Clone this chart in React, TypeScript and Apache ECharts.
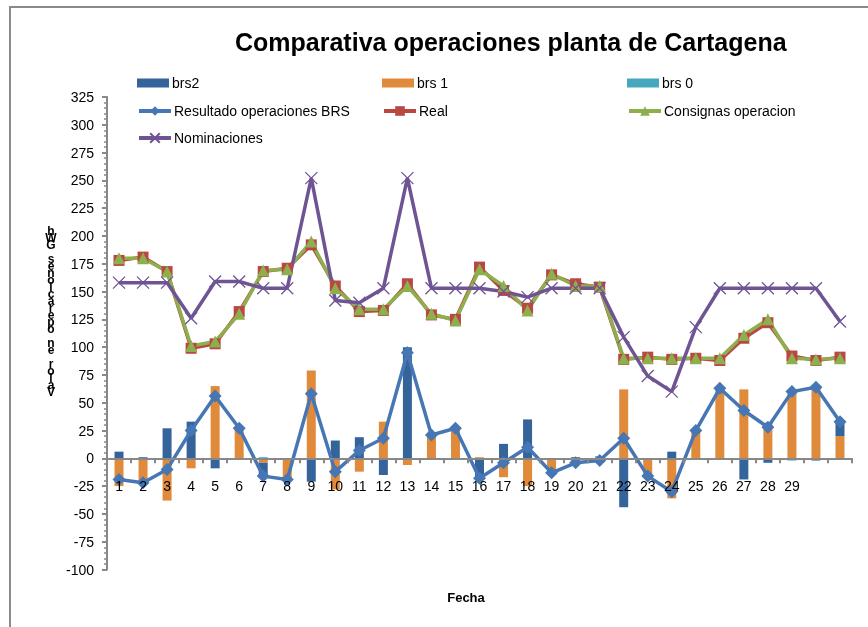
import React, { useEffect, useRef } from 'react';
import * as echarts from 'echarts';

const categories = ['1', '2', '3', '4', '5', '6', '7', '8', '9', '10', '11', '12', '13', '14', '15', '16', '17', '18', '19', '20', '21', '22', '23', '24', '25', '26', '27', '28', '29', '', ''];

const brs2 = [6, 1, 27, 33, -9, 0, -11, 0, -21, 16, 19, -15, 100, 0, -1, -19, 13, 35, 0, 1, 0, -44, 0, 6, 0, 0, -19, -4, 0, -2, 13];
const brs1 = [-25, -23, -38, -9, 65, 28, -4, -19, 79, -28, -12, 33, -6, 21, 28, 1, -17, -25, -13, -5, -4, 62, -17, -36, 25, 63, 62, 32, 61, 66, 20];
const brs0 = [0, 0, 0, 0, 0, -1, 1, -1, 0, 0, 0, 0, 0, 0, 0, 0, 0, 0, 0, 0, 2, 0, 0, 0, -1, 0, 0, 0, -2, 0, -1];

const resultado = [-19, -22, -10, 25, 56, 27, -16, -19, 58, -12, 7, 18, 95, 21, 27, -18, -4, 10, -13, -4, -2, 18, -16, -30, 25, 63, 43, 28, 60, 64, 33];
const real = [178, 181, 168, 99, 103, 132, 168, 171, 192, 155, 132, 133, 157, 129, 125, 172, 151, 135, 165, 157, 154, 89, 91, 89, 90, 88, 108, 122, 92, 88, 91];
const consignas = [180, 180, 168, 101, 105, 130, 169, 170, 195, 153, 134, 134, 155, 130, 124, 170, 155, 133, 166, 155, 155, 90, 90, 90, 90, 90, 111, 125, 90, 89, 90];
const nominaciones = [158, 158, 158, 126, 159, 159, 153, 153, 252, 142, 140, 153, 252, 153, 153, 153, 150, 145, 153, 153, 153, 109, 74, 60, 118, 153, 153, 153, 153, 153, 123];

const yTicks = { min: -100, max: 325, interval: 25 };

const FONT = 'Liberation Sans';
const C_BRS2 = '#35649A';
const C_BRS1 = '#E08A3C';
const C_BRS0 = '#47A7BF';
const C_RES = '#4677B4';
const C_REAL = '#BA4743';
const C_CONS = '#8DAF4C';
const C_NOM = '#6F5493';
const AXIS = '#888888';

export default function App() {
  const ref = useRef<HTMLDivElement>(null);
  useEffect(() => {
    if (!ref.current) return;
    const chart = echarts.init(ref.current, undefined, { renderer: 'svg' });
    const yName = 'Valor en operaciones GWh'.split('').reverse().join('\n');
    const legendDef = (name: string, left: number, top: number, isBar: boolean) => ({
      data: [name],
      left,
      top,
      padding: 0,
      itemWidth: 32,
      itemHeight: isBar ? 9 : 12,
      itemGap: 0,
      selectedMode: false,
      icon: isBar ? 'rect' : undefined,
      lineStyle: { width: 4 },
      textStyle: { fontSize: 14, color: '#000', fontFamily: FONT, padding: [0, 0, 0, -2] },
    });
    chart.setOption({
      animation: false,
      title: {
        text: 'Comparativa operaciones planta de Cartagena',
        left: 235,
        top: 29,
        padding: 0,
        textStyle: { fontSize: 25, fontWeight: 'bold', color: '#000', fontFamily: FONT },
      },
      legend: [
        legendDef('brs2', 137, 76, true),
        legendDef('brs 1', 382, 76, true),
        legendDef('brs 0', 627, 76, true),
        legendDef('Resultado operaciones BRS', 137, 104, false),
        legendDef('Real', 382, 104, false),
        legendDef('Consignas operacion', 627, 104, false),
        legendDef('Nominaciones', 137, 131, false),
      ],
      grid: { left: 107, right: 16, top: 97, bottom: 57.5, containLabel: false },
      xAxis: {
        type: 'category',
        data: categories,
        z: 10,
        axisLine: { onZero: true, lineStyle: { color: AXIS, width: 2 } },
        axisTick: { show: true, length: 5, interval: 0, lineStyle: { color: AXIS, width: 2 } },
        axisLabel: { interval: 0, fontSize: 14, color: '#000', fontFamily: FONT, margin: -91 },
        splitLine: { show: false },
      },
      yAxis: {
        type: 'value',
        min: yTicks.min,
        max: yTicks.max,
        interval: yTicks.interval,
        axisLine: { show: true, lineStyle: { color: AXIS, width: 2 } },
        axisTick: { show: true, length: 5, lineStyle: { color: AXIS, width: 2 } },
        minorTick: { show: true, splitNumber: 5, length: 3, lineStyle: { color: AXIS, width: 1.5 } },
        axisLabel: { fontSize: 14, color: '#000', fontFamily: FONT, margin: 13 },
        splitLine: { show: false },
      },
      graphic: [
        {
          type: 'rect',
          shape: { x: 10, y: 7, width: 2000, height: 2000 },
          style: { fill: 'none', stroke: '#8a8a8a', lineWidth: 2 },
          silent: true,
        },
        {
          type: 'text',
          x: 51,
          y: 311,
          style: {
            text: yName,
            align: 'center',
            verticalAlign: 'middle',
            fontSize: 12,
            fontWeight: 'bold',
            fontFamily: FONT,
            lineHeight: 7,
            fill: '#000',
          },
        },
        {
          type: 'text',
          x: 466,
          y: 597,
          style: {
            text: 'Fecha',
            align: 'center',
            verticalAlign: 'middle',
            fontSize: 13,
            fontWeight: 'bold',
            fontFamily: FONT,
            fill: '#000',
          },
        },
      ],
      series: [
        { name: 'brs 1', type: 'bar', stack: 'brs', barWidth: 9, data: brs1, itemStyle: { color: C_BRS1 } },
        { name: 'brs2', type: 'bar', stack: 'brs', barWidth: 9, data: brs2, itemStyle: { color: C_BRS2 } },
        { name: 'brs 0', type: 'bar', stack: 'brs', barWidth: 9, data: brs0, itemStyle: { color: C_BRS0 } },
        {
          name: 'Resultado operaciones BRS',
          type: 'line',
          data: resultado,
          symbol: 'diamond',
          symbolSize: 13,
          lineStyle: { color: C_RES, width: 3.5 },
          itemStyle: { color: C_RES },
        },
        {
          name: 'Real',
          type: 'line',
          data: real,
          symbol: 'rect',
          symbolSize: 11,
          lineStyle: { color: C_REAL, width: 3.5 },
          itemStyle: { color: C_REAL },
        },
        {
          name: 'Consignas operacion',
          type: 'line',
          data: consignas,
          symbol: 'triangle',
          symbolSize: 12,
          lineStyle: { color: C_CONS, width: 3.5 },
          itemStyle: { color: C_CONS },
        },
        {
          name: 'Nominaciones',
          type: 'line',
          data: nominaciones,
          symbol: 'path://M0,0L10,10M10,0L0,10',
          symbolSize: 12,
          lineStyle: { color: C_NOM, width: 3.5 },
          itemStyle: { color: C_NOM, borderColor: C_NOM, borderWidth: 1.3 },
        },
      ],
    });
    return () => chart.dispose();
  }, []);
  return <div ref={ref} style={{ position: 'fixed', left: 0, top: 0, width: 868, height: 627 }} />;
}
